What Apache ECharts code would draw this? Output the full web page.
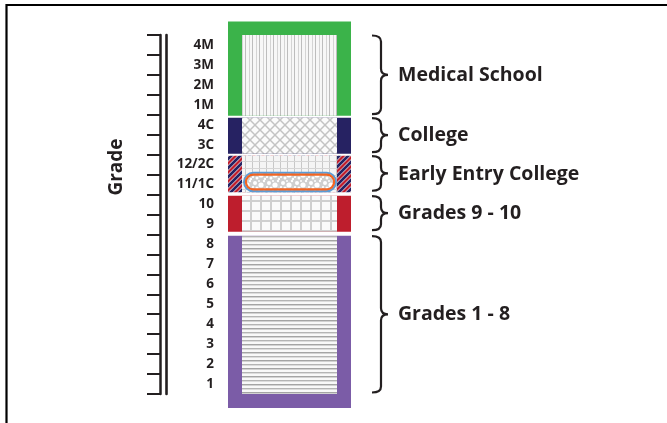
<!DOCTYPE html>
<html><head><meta charset="utf-8">
<script src="https://cdn.jsdelivr.net/npm/echarts@6/dist/echarts.min.js"></script>
<style>html,body{margin:0;padding:0;background:#fff}#c{width:667px;height:423px}</style>
</head><body><div id="c"></div>
<script>
// ---- data ----
const categories = ['1','2','3','4','5','6','7','8','9','10','11/1C','12/2C','3C','4C','1M','2M','3M','4M'];
const stageNames = ['Grades 1 - 8','Grades 9 - 10','Early Entry College','College','Medical School'];
const stageFirst = ['1','9','11/1C','3C','1M'];
const stageLast  = ['8','10','12/2C','4C','4M'];
const highlightGrades = ['11/1C'];
const axisTitle = 'Grade';

// ---- styles ----
const INK = '#231f20';
const FONT = "'Open Sans', sans-serif";
const COL = {left: 68, right: 191, side: 14, cap: 14};

function mk(w, h, draw){const c=document.createElement('canvas');c.width=w;c.height=h;const x=c.getContext('2d');draw(x,w,h);return {image:c, repeat:'repeat'};}
const PAT = {
  vlines: mk(7,4,(g,w,h)=>{g.fillStyle='#f7f7f7';g.fillRect(0,0,w,h);g.fillStyle='#bdbdbd';g.fillRect(0,0,1,h);g.fillStyle='#d4d4d4';g.fillRect(4,0,1,h);}),
  hatch: mk(10,10,(g,w,h)=>{g.fillStyle='#fbfbfb';g.fillRect(0,0,w,h);g.strokeStyle='#c3c3c3';g.lineWidth=1.5;
    [0,10,-10].forEach(o=>{g.beginPath();g.moveTo(-5,-5+o);g.lineTo(15,15+o);g.stroke();});
    [10,0,20].forEach(o=>{g.beginPath();g.moveTo(-5,o+5);g.lineTo(15,o-15);g.stroke();});}),
  grid: mk(7,7,(g,w,h)=>{g.fillStyle='#f5f5f5';g.fillRect(0,0,w,h);g.fillStyle='#c8c8c8';g.fillRect(0,0,1,h);g.fillStyle='#d6d6d6';g.fillRect(0,0,w,1);}),
  squares: mk(10,10,(g,w,h)=>{g.fillStyle='#cfcfcf';g.fillRect(0,0,w,h);g.fillStyle='#fafafa';g.fillRect(2,2,8,8);}),
  hlines: mk(4,8,(g,w,h)=>{g.fillStyle='#f8f8f8';g.fillRect(0,0,w,h);g.fillStyle='#a4a4a4';g.fillRect(0,0,w,1);g.fillStyle='#d2d2d2';g.fillRect(0,1,w,1);g.fillStyle='#b4b4b4';g.fillRect(0,4,w,1);g.fillStyle='#dcdcdc';g.fillRect(0,5,w,1);}),
  stripes: mk(9,9,(g,w,h)=>{g.fillStyle='#be1e2d';g.fillRect(0,0,w,h);
    [0,9,18].forEach(c=>{g.strokeStyle='#ffffff';g.lineWidth=4;g.beginPath();g.moveTo(-3,c+3);g.lineTo(c+3,-3);g.stroke();
      g.strokeStyle='#262262';g.lineWidth=2.8;g.beginPath();g.moveTo(-3,c+3);g.lineTo(c+3,-3);g.stroke();});}),
  bubbles: mk(14,10,(g,w,h)=>{g.fillStyle='#cfcfcf';g.fillRect(0,0,w,h);g.fillStyle='#ffffff';
    [[3,3,2],[9,5,2.6],[5,8,1.5],[12,1,1.2],[1,7,1.1],[13,9,1.3],[7,1,1]].forEach(([x,y,r])=>{g.beginPath();g.arc(x,y,r,0,Math.PI*2);g.fill();});})
};
// per stage (same order as stageNames)
const STAGE_STYLE = [
  {outer:'#7b5ca7', inner:PAT.hlines,  padTop:1.2, padBot:0,   capBottom:true},
  {outer:'#be1e2d', inner:PAT.squares, padTop:1.1, padBot:2.8},
  {outer:PAT.stripes, inner:PAT.grid,  padTop:1.0, padBot:2.3},
  {outer:'#262262', inner:PAT.hatch,   padTop:2.9, padBot:1.0},
  {outer:'#3bb34a', inner:PAT.vlines,  padTop:0,   padBot:-0.9, capTop:true}
];

const stageData = stageNames.map((n,i)=>[0, categories.indexOf(stageFirst[i]), categories.indexOf(stageLast[i]), i]);
const capsuleData = highlightGrades.map(g=>[0, categories.indexOf(g)]);

function renderStage(params, api){
  const cs = params.coordSys;
  const first = api.value(1), last = api.value(2), i = api.value(3);
  const st = STAGE_STYLE[i];
  const bh = api.size([0,1])[1];
  const tickTop = api.coord([0,last])[1] - bh/2;
  const tickBot = api.coord([0,first])[1] + bh/2;
  const inTop = tickTop + st.padTop, inBot = tickBot - st.padBot;
  const outTop = st.capTop ? inTop - COL.cap + 0.5 : inTop;
  const outBot = st.capBottom ? inBot + COL.cap : inBot;
  const xL = cs.x + COL.left, xR = cs.x + COL.right;
  const y0 = inTop + 0.5, y1 = inBot - 1.5;
  const bx0 = xR + 21, bx1 = xR + 30, bx2 = xR + 37;
  const ym = (y0 + y1) / 2, r = 6;
  const d = `M${bx0},${y0} Q${bx1},${y0} ${bx1},${y0+r} L${bx1},${ym-r} Q${bx1},${ym} ${bx2},${ym} Q${bx1},${ym} ${bx1},${ym+r} L${bx1},${y1-r} Q${bx1},${y1} ${bx0},${y1}`;
  return {type:'group', children:[
    {type:'rect', shape:{x:xL, y:outTop, width:xR-xL, height:outBot-outTop}, style:{fill:st.outer}},
    {type:'rect', shape:{x:xL+COL.side, y:inTop, width:xR-xL-2*COL.side, height:inBot-inTop}, style:{fill:st.inner}},
    {type:'path', shape:{pathData:d}, style:{fill:'none', stroke:INK, lineWidth:2.2}},
    {type:'text', x:xR+47, y:(inTop+inBot)/2, style:{text:stageNames[i], fill:INK, font:`bold 19.5px ${FONT}`, align:'left', verticalAlign:'middle', textAlign:'left', textVerticalAlign:'middle'}}
  ]};
}
function renderCapsule(params, api){
  const cs = params.coordSys;
  const yc = api.coord([0, api.value(1)])[1];
  const x = cs.x + COL.left + 15, w = COL.right - COL.left - 29;
  const top = yc - 12.9, h = 20.6;
  return {type:'group', children:[
    {type:'rect', shape:{x:x+1, y:top+1, width:w-2, height:h-2, r:(h-2)/2}, style:{fill:PAT.bubbles, stroke:'#5b9bd5', lineWidth:2}},
    {type:'rect', shape:{x:x+2.9, y:top+2.9, width:w-5.8, height:h-5.8, r:(h-5.8)/2}, style:{fill:'none', stroke:'#f26522', lineWidth:2.2}}
  ]};
}

const chart = echarts.init(document.getElementById('c'), null, {renderer:'canvas'});
chart.setOption({
  animation:false,
  grid:{left:160, top:35, bottom:29, right:300},
  xAxis:{type:'value', min:0, max:1, show:false},
  yAxis:[
    {type:'category', data:categories, position:'left',
     axisLine:{show:true, lineStyle:{color:INK, width:2.5}},
     axisTick:{show:true, length:13, lineStyle:{color:INK, width:2}},
     axisLabel:{inside:true, align:'right', margin:54, interval:0, color:INK, fontFamily:FONT, fontWeight:'bold', fontSize:13.5},
     splitLine:{show:false}},
    {type:'category', data:categories, position:'left', offset:-6,
     axisLine:{show:true, lineStyle:{color:INK, width:2.6}}, axisTick:{show:false}, axisLabel:{show:false}, splitLine:{show:false}}
  ],
  series:[
    {type:'custom', renderItem:renderStage, data:stageData, encode:{x:0, y:[1,2]}, silent:true},
    {type:'custom', renderItem:renderCapsule, data:capsuleData, encode:{x:0, y:1}, silent:true}
  ],
  graphic:[
    {type:'polyline', shape:{points:[[6.5,423],[6.5,5],[667,5]]}, style:{stroke:'#000', lineWidth:2.2, fill:'none'}},
    {type:'text', x:117, y:167, rotation:Math.PI/2, style:{text:axisTitle, fill:INK, font:`bold 19px ${FONT}`, align:'center', verticalAlign:'middle', textAlign:'center', textVerticalAlign:'middle'}}
  ]
});
</script></body></html>
